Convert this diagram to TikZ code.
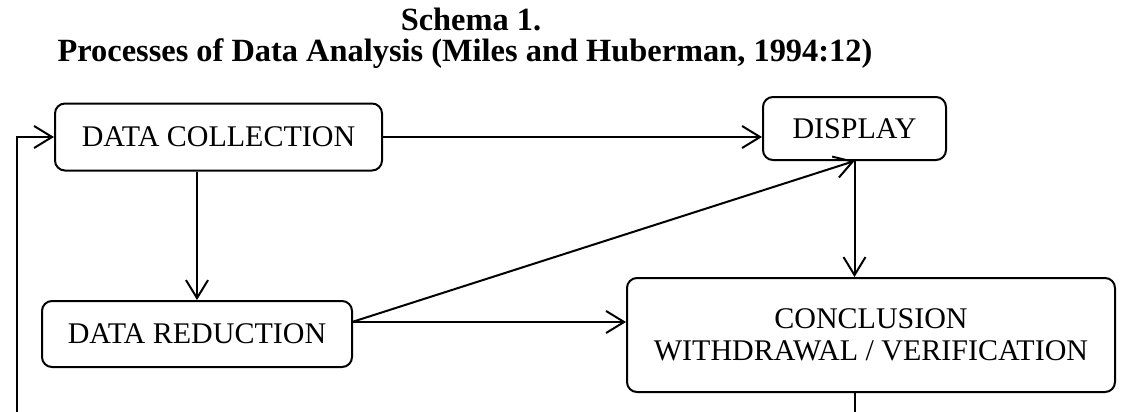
\documentclass[tikz,border=0pt]{standalone}
\usepackage{fontspec}
\setmainfont{Liberation Serif}
\usetikzlibrary{arrows.meta}
\tikzset{
  >={Straight Barb[length=9pt,width=11pt,line width=1pt]},
  {box/.style} ={draw, line width=1pt, rounded corners=5pt,
                 inner sep=0, align=center, font=\fontsize{15}{16}\selectfont},
  {title/.style} ={font=\fontsize{16.2}{18}\selectfont\bfseries, inner sep=0},
  {flow/.style} ={line width=1pt, ->},
  {link/.style} ={line width=1pt},
}
\begin{document}
\begin{tikzpicture}[x=0.5pt,y=-0.5pt]
\useasboundingbox (0,0) rectangle (1130,412);
\node[title] (head) at (471,19) {Schema 1.};
\node[title] (subhead) at (465,54) {Processes of Data Analysis (Miles and Huberman, 1994:12)};

\node[box, minimum width=163.5pt, minimum height=33.5pt] (collection) at (218.5,137) {DATA COLLECTION};
\node[box, minimum width=91.5pt, minimum height=31.5pt] (display) at (854.5,128.5) {DISPLAY};
\node[box, minimum width=155pt, minimum height=33pt] (reduction) at (197,334) {DATA REDUCTION};
\node[box, minimum width=244pt, minimum height=57pt] (conclusion) at (871,335)
  {CONCLUSION\\WITHDRAWAL / VERIFICATION};

\coordinate (split) at (352,322);
\coordinate (feedback) at (17,412);
\coordinate (result) at (854.5,412);

\draw[flow] (collection.east) -- (display.west |- collection.east);
\draw[flow] (reduction.north |- collection.south) -- (reduction.north);
\draw[flow] (split) -- (display.south);
\draw[flow] (split) -- (conclusion.west |- split);
\draw[flow] (display.south) -- (display.south |- conclusion.north);
\draw[link] (display.south |- conclusion.south) -- (result);
\draw[flow] (feedback) |- (collection.west);
\end{tikzpicture}
\end{document}
